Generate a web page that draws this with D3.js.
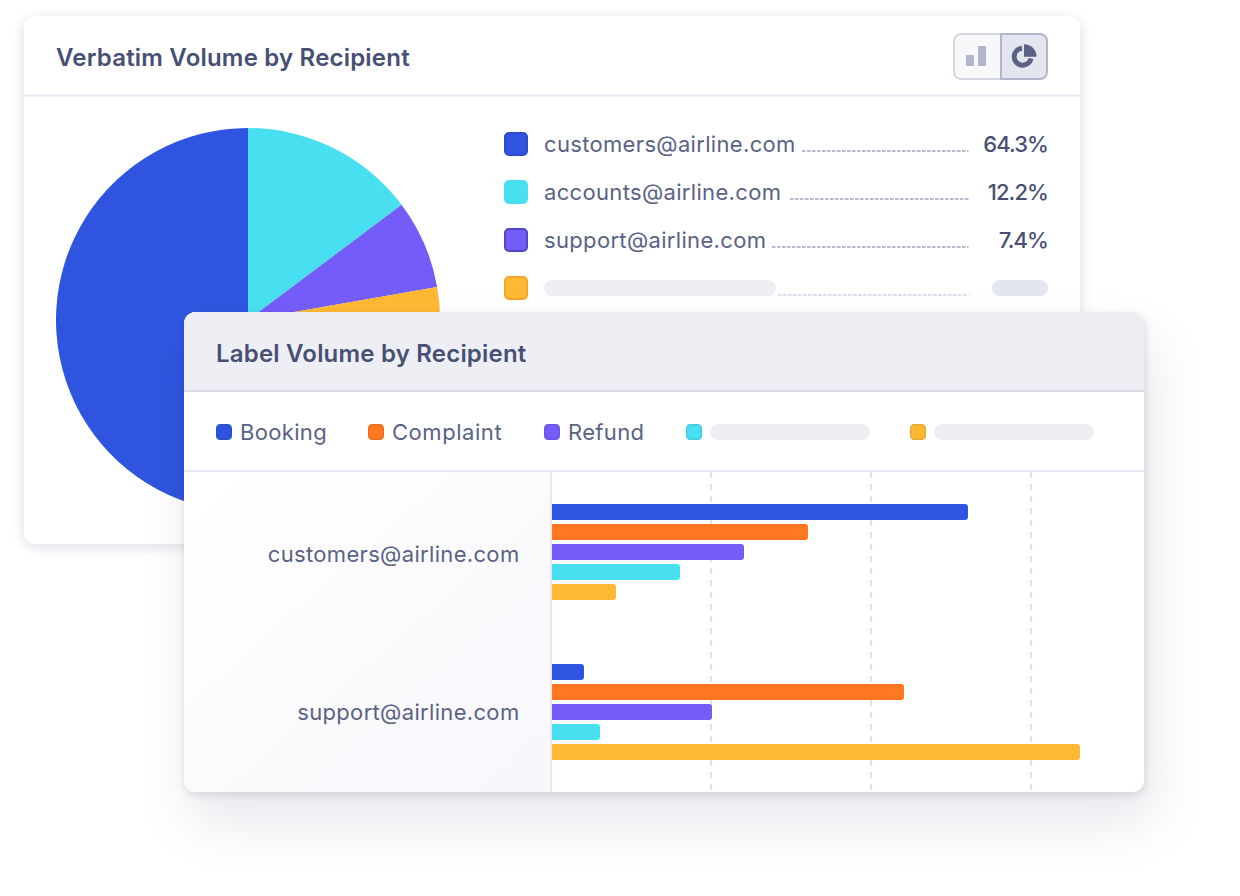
<!DOCTYPE html>
<html><head><meta charset="utf-8">
<script src="https://cdn.jsdelivr.net/npm/d3@7/dist/d3.min.js"></script>
<style>html,body{margin:0;background:#fff}svg{display:block}text{font-family:Inter,"Noto Sans",sans-serif}</style>
</head><body><svg id="c" width="1240" height="896"></svg>
<script>
// data
const pieNames=["accounts@airline.com","support@airline.com","hidden","customers@airline.com"];
const pieValues=[14.75,7.5,13.45,64.3];
const pieColors=["#48e0f0","#745cf8","#ffb833","#2f55e0"];
const legendNames=["customers@airline.com","accounts@airline.com","support@airline.com",""];
const legendShares=["64.3%","12.2%","7.4%",""];
const legendColors=["#2f55e0","#48e0f0","#745cf8","#ffb833"];
const legendBorders=["#2a4bd0","#48e0f0","#4f46c8","#f0a828"];
const leaderStarts=[802,790,772,778];
const recipients=["customers@airline.com","support@airline.com"];
const labels=["Booking","Complaint","Refund","",""];
const labelColors=["#2f55e0","#ff7820","#745cf8","#48e0f0","#ffb833"];
const bookingValues=[13,1];
const complaintValues=[8,11];
const refundValues=[6,5];
const fourthValues=[4,1.5];
const fifthValues=[2,16.5];
const ticks=[5,10,15];

const svg=d3.select("#c");
const defs=svg.append("defs");
const f1=defs.append("filter").attr("id","s1").attr("x","-10%").attr("y","-10%").attr("width","120%").attr("height","125%");
f1.append("feDropShadow").attr("dx",0).attr("dy",3).attr("stdDeviation",6).attr("flood-color","#1a2050").attr("flood-opacity",0.14);
const f2=defs.append("filter").attr("id","s2").attr("x","-20%").attr("y","-20%").attr("width","140%").attr("height","150%");
f2.append("feDropShadow").attr("dx",8).attr("dy",30).attr("stdDeviation",26).attr("flood-color","#20243a").attr("flood-opacity",0.09);
const f3=defs.append("filter").attr("id","s3").attr("x","-5%").attr("y","-5%").attr("width","110%").attr("height","110%");
f3.append("feDropShadow").attr("dx",1).attr("dy",3).attr("stdDeviation",3.5).attr("flood-color","#20243a").attr("flood-opacity",0.14);
const grad=defs.append("linearGradient").attr("id","pg").attr("x1",0).attr("y1",0).attr("x2",1).attr("y2",1);
grad.append("stop").attr("offset","0%").attr("stop-color","#ffffff");
grad.append("stop").attr("offset","100%").attr("stop-color","#f7f7fc");

const TXT="#5a6285",DARK="#474f73";

// top card
svg.append("rect").attr("x",24).attr("y",16).attr("width",1056).attr("height",528).attr("rx",12).attr("fill","#fff").attr("filter","url(#s1)");
svg.append("text").attr("x",56).attr("y",66).attr("font-size",24).attr("font-weight",600).attr("letter-spacing",0.2).attr("fill",DARK).text("Verbatim Volume by Recipient");
svg.append("rect").attr("x",24).attr("y",94.5).attr("width",1056).attr("height",2).attr("fill","#e6e7f2");

// toggle
svg.append("path").attr("d","M961 34H1001V79H961a7 7 0 0 1-7-7V41a7 7 0 0 1 7-7Z").attr("fill","#f8f8fb").attr("stroke","#d5d7e5").attr("stroke-width",2);
svg.append("path").attr("d","M1001 34H1040a7 7 0 0 1 7 7V72a7 7 0 0 1-7 7H1001Z").attr("fill","#e3e5ef").attr("stroke","#b3b7cc").attr("stroke-width",2);
svg.append("rect").attr("x",966).attr("y",55).attr("width",8).attr("height",11).attr("fill","#b3b7cc");
svg.append("rect").attr("x",978).attr("y",46).attr("width",8).attr("height",20).attr("fill","#b3b7cc");
const ia=d3.arc();
svg.append("g").attr("transform","translate(1022.7,56.7)").call(g=>{
  g.append("path").attr("d",ia({innerRadius:6,outerRadius:11,startAngle:Math.PI/2+.2,endAngle:2*Math.PI-.08})).attr("fill","#5a6285");
  g.append("path").attr("d",ia({innerRadius:0,outerRadius:12.5,startAngle:0,endAngle:Math.PI/2})).attr("transform","translate(1.3,0)").attr("fill","#5a6285");
});

// pie
const pie=d3.pie().sort(null)(pieValues);
const arc=d3.arc().innerRadius(0).outerRadius(192);
svg.append("g").attr("transform","translate(248,320)").selectAll("path").data(pie).join("path")
  .attr("d",arc).attr("fill",(d,i)=>pieColors[i]);

// top legend
const rowY=d3.scalePoint().domain(d3.range(4)).range([144,288]);
const lg=svg.append("g").selectAll("g").data(legendNames).join("g");
lg.append("rect").attr("x",505).attr("y",(d,i)=>rowY(i)-11).attr("width",22).attr("height",22).attr("rx",4)
  .attr("fill",(d,i)=>legendColors[i]).attr("stroke",(d,i)=>legendBorders[i]).attr("stroke-width",2);
lg.append("line").attr("x1",(d,i)=>leaderStarts[i]).attr("x2",968.5).attr("y1",(d,i)=>rowY(i)+7).attr("y2",(d,i)=>rowY(i)+7)
  .attr("stroke",(d,i)=>i==3?"#dcdeea":"#b9bcd0").attr("stroke-width",2).attr("stroke-dasharray","3.6 1.4");
lg.each(function(d,i){
  if(!d) return;
  const g=d3.select(this);
  g.append("text").attr("x",544).attr("y",rowY(i)+8).attr("font-size",22).attr("letter-spacing",0.33).attr("fill",TXT).text(d);
  g.append("text").attr("x",1048).attr("y",rowY(i)+8).attr("text-anchor","end").attr("font-size",22).attr("letter-spacing",-0.9).attr("font-weight",500).attr("fill",DARK).text(legendShares[i]);
});
svg.append("rect").attr("x",544).attr("y",280).attr("width",232).attr("height",16).attr("rx",8).attr("fill","#eeeff5");
svg.append("rect").attr("x",992).attr("y",280).attr("width",56).attr("height",16).attr("rx",8).attr("fill","#e3e5ef");

// bottom card
svg.append("rect").attr("x",184).attr("y",312).attr("width",960).attr("height",480).attr("rx",12).attr("fill","#fff").attr("filter","url(#s2)");
svg.append("rect").attr("x",184).attr("y",312).attr("width",960).attr("height",480).attr("rx",12).attr("fill","#fff").attr("filter","url(#s3)");
svg.append("path").attr("d","M184 390V324a12 12 0 0 1 12-12H1132a12 12 0 0 1 12 12V390Z").attr("fill","#eeeff5");
svg.append("rect").attr("x",184).attr("y",390).attr("width",960).attr("height",2).attr("fill","#d9dbe8");
svg.append("text").attr("x",216).attr("y",362).attr("font-size",24).attr("font-weight",600).attr("letter-spacing",0.2).attr("fill",DARK).text("Label Volume by Recipient");
svg.append("path").attr("d","M184 472H551V792H196a12 12 0 0 1-12-12Z").attr("fill","url(#pg)");
svg.append("rect").attr("x",184).attr("y",470).attr("width",960).attr("height",2).attr("fill","#e6e7f2");
svg.append("rect").attr("x",550).attr("y",472).attr("width",2).attr("height",320).attr("fill","#e6e7f2");

// bottom legend
const swX=[216,368,544,686,910], txtX=[240,392,568,710,934];
const bl=svg.append("g").selectAll("g").data(labels).join("g");
bl.append("rect").attr("x",(d,i)=>swX[i]+.75).attr("y",424.75).attr("width",14.5).attr("height",14.5).attr("rx",3.5)
  .attr("fill",(d,i)=>labelColors[i]).attr("stroke",(d,i)=>d3.color(labelColors[i]).darker(.25)).attr("stroke-width",1.5);
bl.each(function(d,i){
  const g=d3.select(this);
  if(d) g.append("text").attr("x",txtX[i]).attr("y",440).attr("font-size",22).attr("letter-spacing",i==1?0.55:0.33).attr("fill",TXT).text(d);
  else g.append("rect").attr("x",txtX[i]).attr("y",424).attr("width",160).attr("height",16).attr("rx",8).attr("fill","#eeeff5");
});

// bars
const x=d3.scaleLinear().domain([0,5]).range([552,712]);
svg.append("g").selectAll("line").data(ticks).join("line")
  .attr("x1",d=>x(d)-1).attr("x2",d=>x(d)-1).attr("y1",472).attr("y2",792)
  .attr("stroke","#dfe0ec").attr("stroke-width",2).attr("stroke-dasharray","6 6");
const groupY=d3.scaleBand().domain(recipients).range([504,824]);
const series=[bookingValues,complaintValues,refundValues,fourthValues,fifthValues];
const inner=d3.scaleBand().domain(d3.range(5)).range([0,100]);
const labelDy=[58,56];
const rows=svg.append("g").selectAll("g").data(recipients).join("g")
  .attr("transform",d=>`translate(0,${groupY(d)})`);
rows.each(function(r,ri){
  d3.select(this).selectAll("path").data(series.map(s=>s[ri])).join("path")
   .attr("fill",(d,i)=>labelColors[i])
   .attr("d",(d,i)=>{const y=inner(i),h=16,x0=x(0),x1=x(d),c=3;
     return `M${x0} ${y}H${x1-c}a${c} ${c} 0 0 1 ${c} ${c}V${y+h-c}a${c} ${c} 0 0 1 ${-c} ${c}H${x0}Z`;});
});
rows.append("text").attr("x",519.5).attr("y",(d,i)=>labelDy[i]).attr("text-anchor","end").attr("font-size",22).attr("letter-spacing",0.33).attr("fill",TXT).text(d=>d);
</script></body></html>
